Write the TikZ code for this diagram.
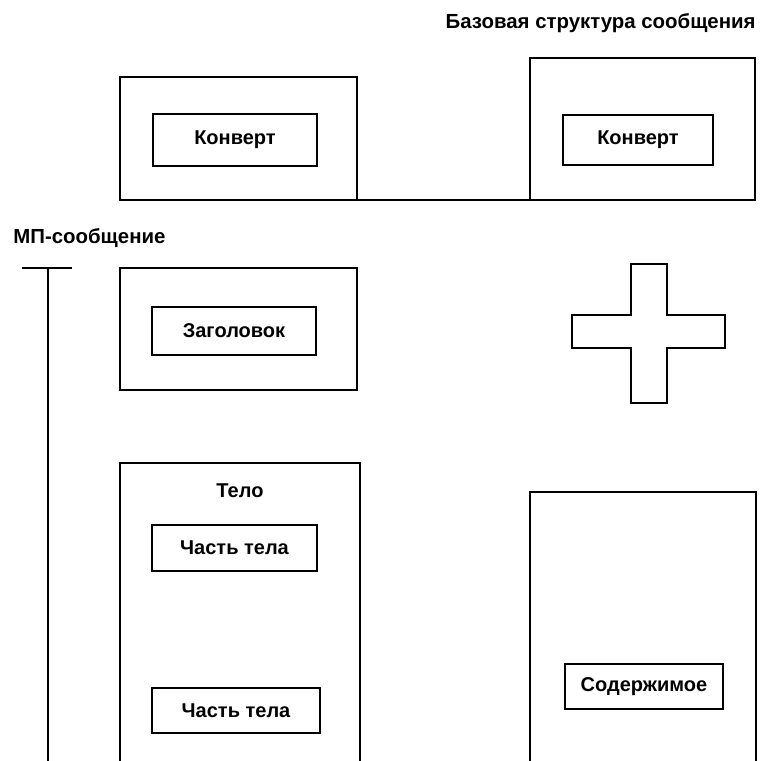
\documentclass[tikz,border=0pt]{standalone}
\usepackage{fontspec}
\setmainfont{Liberation Sans}
\usetikzlibrary{positioning}

\tikzset{
  frame/.style={draw, line width=1.4pt, inner sep=0pt, outer sep=0pt},
  part/.style={draw, line width=1.4pt, inner sep=0pt, outer sep=0pt, font=\fontsize{10}{12}\selectfont\bfseries},
  caption/.style={inner sep=0pt, font=\fontsize{10.2}{12}\selectfont\bfseries}
}

\begin{document}
\begin{tikzpicture}[x=0.5pt, y=-0.5pt, line width=1.4pt]
  \useasboundingbox (0,0) rectangle (762,761);
  \clip (0,0) rectangle (762,761);

  % Base message structure
  \node[caption, anchor=base east] (base) at (757,28) {Базовая структура сообщения};
  \node[frame, minimum width=118.5pt, minimum height=61.5pt] (envL) at (238.5,138.5) {};
  \node[part, minimum width=82pt, minimum height=26pt] (envLin) at (235,140) {Конверт};
  \node[frame, minimum width=112.5pt, minimum height=71pt] (envR) at (642.5,129) {};
  \node[part, minimum width=75pt, minimum height=25pt] (envRin) at (638,140) {Конверт};
  \draw (envL.south east) -- (envR.south west);

  % MP message
  \node[caption, anchor=base west] (mp) at (12,243) {МП-сообщение};
  \coordinate (barL) at (22,268);
  \coordinate (barR) at (72,268);
  \coordinate (barT) at (48,268);
  \coordinate (barB) at (48,775);
  \draw (barL) -- (barR);
  \draw (barT) -- (barB);

  % Header
  \node[frame, minimum width=118.5pt, minimum height=61pt] (head) at (238.5,329) {};
  \node[part, minimum width=82pt, minimum height=24pt] (headin) at (234,331) {Заголовок};

  % Plus sign
  \draw (631,264) -- (667,264) -- (667,315) -- (725,315) -- (725,348) -- (667,348)
    -- (667,403) -- (631,403) -- (631,348) -- (572,348) -- (572,315) -- (631,315) -- cycle;

  % Body
  \node[frame, minimum width=120pt, minimum height=158.5pt] (body) at (240,621.5) {};
  \node[caption, font=\fontsize{10}{12}\selectfont\bfseries, anchor=base] (telo) at (240,497) {Тело};
  \node[part, minimum width=82.5pt, minimum height=23pt] (bodyA) at (234.5,548) {Часть тела};
  \node[part, minimum width=84pt, minimum height=22.5pt] (bodyB) at (236,710.5) {Часть тела};

  % Contents
  \node[frame, minimum width=113pt, minimum height=144pt] (cont) at (643,636) {};
  \node[part, minimum width=79pt, minimum height=22.5pt] (contin) at (644,686.5) {Содержимое};
\end{tikzpicture}
\end{document}
